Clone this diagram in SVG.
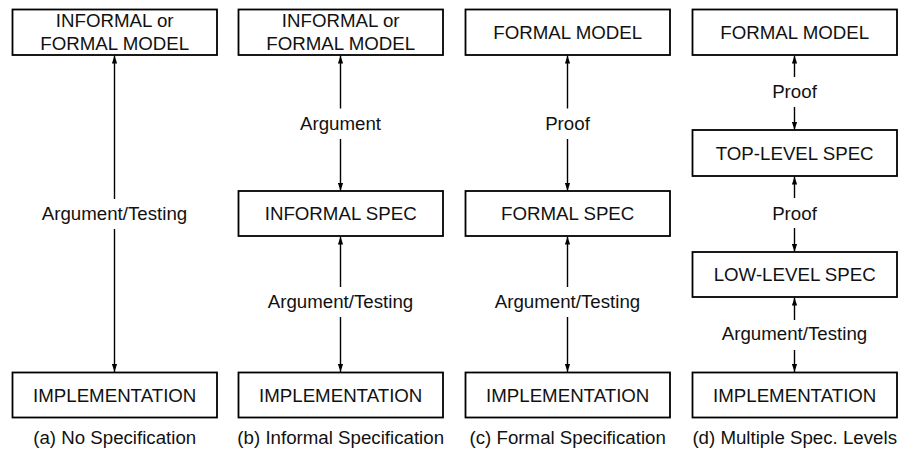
<svg xmlns="http://www.w3.org/2000/svg" width="899" height="451" viewBox="0 0 899 451">
<defs>
<marker id="ah" markerUnits="userSpaceOnUse" markerWidth="9" markerHeight="6" refX="8" refY="3" orient="auto">
<path d="M0,0.4 L8,3 L0,5.6 z" fill="#000"/>
</marker>
<style>
text{font-family:"Liberation Sans",Arial,sans-serif;font-size:18.7px;fill:#111;text-anchor:middle}
.box{fill:#fff;stroke:#000;stroke-width:1.8}
#connectors line{stroke:#000;stroke-width:1.4;marker-end:url(#ah)}
</style>
</defs>
<rect x="0" y="0" width="899" height="451" fill="#fff"/>
<g id="connectors">
<line x1="114.5" y1="199" x2="114.5" y2="55.5"/>
<line x1="114.5" y1="229" x2="114.5" y2="372"/>
<line x1="340.5" y1="108.5" x2="340.5" y2="55.5"/>
<line x1="340.5" y1="139" x2="340.5" y2="191"/>
<line x1="340.5" y1="287" x2="340.5" y2="236.5"/>
<line x1="340.5" y1="317" x2="340.5" y2="372"/>
<line x1="567.5" y1="108.5" x2="567.5" y2="55.5"/>
<line x1="567.5" y1="139" x2="567.5" y2="191"/>
<line x1="567.5" y1="287" x2="567.5" y2="236.5"/>
<line x1="567.5" y1="317" x2="567.5" y2="372"/>
<line x1="794.5" y1="77" x2="794.5" y2="55.5"/>
<line x1="794.5" y1="107" x2="794.5" y2="130"/>
<line x1="794.5" y1="198" x2="794.5" y2="176.5"/>
<line x1="794.5" y1="228" x2="794.5" y2="252"/>
<line x1="794.5" y1="320" x2="794.5" y2="297.5"/>
<line x1="794.5" y1="350" x2="794.5" y2="372"/>
</g>
<g id="labels">
<text x="114.5" y="220">Argument/Testing</text>
<text x="340.5" y="129.5">Argument</text>
<text x="340.5" y="308">Argument/Testing</text>
<text x="567.5" y="129.5">Proof</text>
<text x="567.5" y="308">Argument/Testing</text>
<text x="794.5" y="98">Proof</text>
<text x="794.5" y="219.5">Proof</text>
<text x="794.5" y="340">Argument/Testing</text>
</g>
<g id="a-model"><rect class="box" x="12.5" y="9.5" width="204.5" height="45.5"/><text x="114.7" y="26.5">INFORMAL or</text><text x="114.7" y="49.5">FORMAL MODEL</text></g>
<g id="a-impl"><rect class="box" x="12.5" y="372.5" width="204.5" height="45"/><text x="114.7" y="401.5">IMPLEMENTATION</text></g>
<g id="b-model"><rect class="box" x="238.5" y="9.5" width="204.5" height="45.5"/><text x="340.7" y="26.5">INFORMAL or</text><text x="340.7" y="49.5">FORMAL MODEL</text></g>
<g id="b-spec"><rect class="box" x="238.5" y="191" width="204.5" height="45"/><text x="340.7" y="220">INFORMAL SPEC</text></g>
<g id="b-impl"><rect class="box" x="238.5" y="372.5" width="204.5" height="45"/><text x="340.7" y="401.5">IMPLEMENTATION</text></g>
<g id="c-model"><rect class="box" x="465.5" y="9.5" width="204.5" height="45.5"/><text x="567.7" y="38.5">FORMAL MODEL</text></g>
<g id="c-spec"><rect class="box" x="465.5" y="191" width="204.5" height="45"/><text x="567.7" y="220">FORMAL SPEC</text></g>
<g id="c-impl"><rect class="box" x="465.5" y="372.5" width="204.5" height="45"/><text x="567.7" y="401.5">IMPLEMENTATION</text></g>
<g id="d-model"><rect class="box" x="692.5" y="9.5" width="204.5" height="45.5"/><text x="794.7" y="38.5">FORMAL MODEL</text></g>
<g id="d-top"><rect class="box" x="692.5" y="130" width="204.5" height="46"/><text x="794.7" y="159.5">TOP-LEVEL SPEC</text></g>
<g id="d-low"><rect class="box" x="692.5" y="252" width="204.5" height="45"/><text x="794.7" y="281">LOW-LEVEL SPEC</text></g>
<g id="d-impl"><rect class="box" x="692.5" y="372.5" width="204.5" height="45"/><text x="794.7" y="401.5">IMPLEMENTATION</text></g>
<g id="captions">
<text x="114.7" y="444">(a) No Specification</text>
<text x="340.7" y="444">(b) Informal Specification</text>
<text x="567.7" y="444">(c) Formal Specification</text>
<text x="794.7" y="444">(d) Multiple Spec. Levels</text>
</g>
</svg>
